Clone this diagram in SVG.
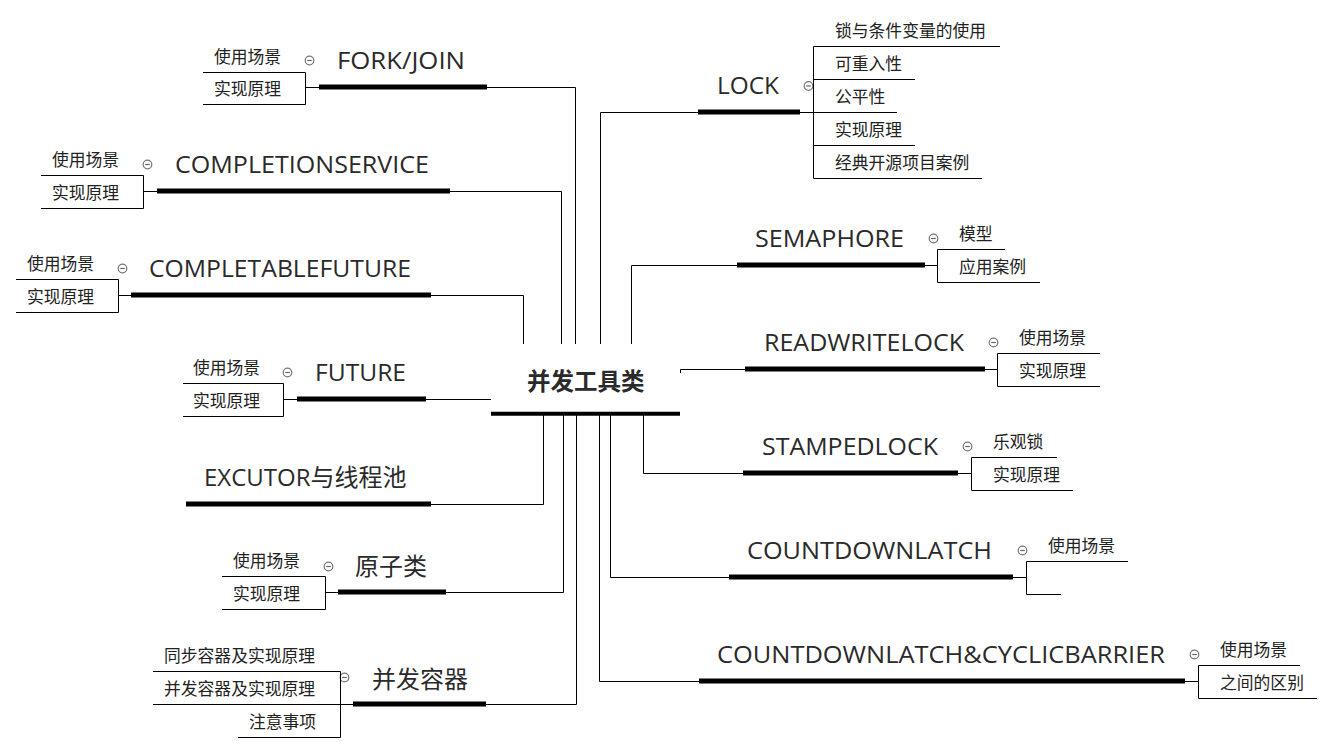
<svg xmlns="http://www.w3.org/2000/svg" width="1334" height="753" viewBox="0 0 1334 753">
<style>
.bg{fill:#fff}
.t{font-family:"Open Sans","Noto Sans CJK SC",sans-serif;font-size:24px;fill:#2a2a2a}
.c{font-family:"Noto Sans CJK SC","Noto Sans",sans-serif;font-size:16.8px;fill:#222}
.ct{font-family:"Noto Sans CJK SC",sans-serif;font-size:23.5px;font-weight:bold;fill:#2a2a2a}
.bar{stroke:#000;stroke-width:5;fill:none}
.ln{stroke:#000;stroke-width:1;fill:none}
.cl{fill:#fff;stroke:#777;stroke-width:1.2}
.mn{stroke:#666;stroke-width:1.2}
</style>
<defs>
<g id="coll"><circle class="cl" r="4.3"/><line class="mn" x1="-2.3" y1="0" x2="2.3" y2="0"/></g>
</defs>
<rect class="bg" width="1334" height="753"/>
<g id="connectors">
<path class="ln" d="M487,87.5H575.5V344"/>
<path class="ln" d="M450,191.5H561.5V344"/>
<path class="ln" d="M431,295.5H523.5V344"/>
<path class="ln" d="M426,399.5H491"/>
<path class="ln" d="M431,504.5H543.5V414"/>
<path class="ln" d="M446,592.5H563.5V414"/>
<path class="ln" d="M486,704.5H576.5V414"/>
<path class="ln" d="M698,112.5H600.5V344"/>
<path class="ln" d="M737,265.5H631.5V344"/>
<path class="ln" d="M745,369.5H680.5V373"/>
<path class="ln" d="M743,473.5H643.5V414"/>
<path class="ln" d="M729,577.5H610.5V414"/>
<path class="ln" d="M699,681.5H599.5V414"/>
</g>
<g id="center">
<text class="ct" x="527" y="390">并发工具类</text>
<line x1="491" y1="413.7" x2="680" y2="413.7" stroke="#000" stroke-width="4"/>
</g>
<g id="forkjoin">
<text class="t" x="337" y="69" textLength="128" lengthAdjust="spacingAndGlyphs">FORK/JOIN</text>
<line class="bar" x1="319" y1="87" x2="487" y2="87"/>
<use href="#coll" x="309.5" y="60.5"/>
<path class="ln" d="M203,72.5H305.5V104.5H203M305.5,87.5H319"/>
<text class="c" x="214" y="63">使用场景</text>
<text class="c" x="214" y="95">实现原理</text>
</g>
<g id="completionservice">
<text class="t" x="175" y="173" textLength="254" lengthAdjust="spacingAndGlyphs">COMPLETIONSERVICE</text>
<line class="bar" x1="157" y1="191" x2="450" y2="191"/>
<use href="#coll" x="147.5" y="164.5"/>
<path class="ln" d="M41,175.5H143.5V208.5H41M143.5,191.5H157"/>
<text class="c" x="52" y="166">使用场景</text>
<text class="c" x="52" y="199">实现原理</text>
</g>
<g id="completablefuture">
<text class="t" x="149" y="277" textLength="262" lengthAdjust="spacingAndGlyphs">COMPLETABLEFUTURE</text>
<line class="bar" x1="131" y1="295" x2="431" y2="295"/>
<use href="#coll" x="122.5" y="268.5"/>
<path class="ln" d="M16,279.5H118.5V312.5H16M118.5,295.5H131"/>
<text class="c" x="27" y="270">使用场景</text>
<text class="c" x="27" y="303">实现原理</text>
</g>
<g id="future">
<text class="t" x="315" y="381" textLength="91" lengthAdjust="spacingAndGlyphs">FUTURE</text>
<line class="bar" x1="297" y1="399" x2="426" y2="399"/>
<use href="#coll" x="287.5" y="372.5"/>
<path class="ln" d="M183,383.5H283.5V416.5H183M283.5,399.5H297"/>
<text class="c" x="193" y="374">使用场景</text>
<text class="c" x="193" y="407">实现原理</text>
</g>
<g id="excutor">
<text class="t" x="204" y="486">EXCUTOR与线程池</text>
<line class="bar" x1="186" y1="504" x2="431" y2="504"/>
</g>
<g id="atomic">
<text class="t" x="355" y="575">原子类</text>
<line class="bar" x1="338" y1="592" x2="446" y2="592"/>
<use href="#coll" x="328.5" y="566.5"/>
<path class="ln" d="M222,576.5H325.5V609.5H222M325.5,592.5H338"/>
<text class="c" x="233" y="567">使用场景</text>
<text class="c" x="233" y="600">实现原理</text>
</g>
<g id="containers">
<text class="t" x="372" y="688">并发容器</text>
<line class="bar" x1="353" y1="704" x2="486" y2="704"/>
<use href="#coll" x="344.5" y="677.5"/>
<path class="ln" d="M153,671.5H340.5V737.5H238M153,704.5H353"/>
<text class="c" x="164" y="662">同步容器及实现原理</text>
<text class="c" x="164" y="695">并发容器及实现原理</text>
<text class="c" x="249" y="728">注意事项</text>
</g>
<g id="lock">
<text class="t" x="717" y="94" textLength="62" lengthAdjust="spacingAndGlyphs">LOCK</text>
<line class="bar" x1="698" y1="112" x2="800" y2="112"/>
<use href="#coll" x="808.5" y="86"/>
<path class="ln" d="M1000,46.5H813.5V178.5H982M800,112.5H897M813.5,79.5H915M813.5,145.5H915"/>
<text class="c" x="835" y="37">锁与条件变量的使用</text>
<text class="c" x="835" y="70">可重入性</text>
<text class="c" x="835" y="103">公平性</text>
<text class="c" x="835" y="136">实现原理</text>
<text class="c" x="835" y="169">经典开源项目案例</text>
</g>
<g id="semaphore">
<text class="t" x="755" y="247" textLength="149" lengthAdjust="spacingAndGlyphs">SEMAPHORE</text>
<line class="bar" x1="737" y1="265" x2="925" y2="265"/>
<use href="#coll" x="933.5" y="238.5"/>
<path class="ln" d="M1005,249.5H937.5V282.5H1040M925,265.5H937.5"/>
<text class="c" x="959" y="240">模型</text>
<text class="c" x="959" y="273">应用案例</text>
</g>
<g id="readwritelock">
<text class="t" x="764" y="351" textLength="200" lengthAdjust="spacingAndGlyphs">READWRITELOCK</text>
<line class="bar" x1="745" y1="369" x2="985" y2="369"/>
<use href="#coll" x="993.5" y="342.5"/>
<path class="ln" d="M1100,353.5H997.5V386.5H1100M985,369.5H997.5"/>
<text class="c" x="1019" y="344">使用场景</text>
<text class="c" x="1019" y="377">实现原理</text>
</g>
<g id="stampedlock">
<text class="t" x="762" y="455" textLength="176" lengthAdjust="spacingAndGlyphs">STAMPEDLOCK</text>
<line class="bar" x1="743" y1="473" x2="958" y2="473"/>
<use href="#coll" x="967.5" y="446.5"/>
<path class="ln" d="M1057,457.5H971.5V490.5H1073M958,473.5H971.5"/>
<text class="c" x="993" y="448">乐观锁</text>
<text class="c" x="993" y="481">实现原理</text>
</g>
<g id="countdownlatch">
<text class="t" x="747" y="559" textLength="245" lengthAdjust="spacingAndGlyphs">COUNTDOWNLATCH</text>
<line class="bar" x1="729" y1="577" x2="1013" y2="577"/>
<use href="#coll" x="1022.5" y="550.5"/>
<path class="ln" d="M1128,561.5H1026.5V594.5H1061M1013,577.5H1026.5"/>
<text class="c" x="1048" y="552">使用场景</text>
</g>
<g id="cdl_cb">
<text class="t" x="717" y="663" textLength="448" lengthAdjust="spacingAndGlyphs">COUNTDOWNLATCH&amp;CYCLICBARRIER</text>
<line class="bar" x1="699" y1="681" x2="1185" y2="681"/>
<use href="#coll" x="1194.5" y="654.5"/>
<path class="ln" d="M1300,665.5H1198.5V698.5H1317M1185,681.5H1198.5"/>
<text class="c" x="1220" y="656">使用场景</text>
<text class="c" x="1220" y="689">之间的区别</text>
</g>
</svg>
